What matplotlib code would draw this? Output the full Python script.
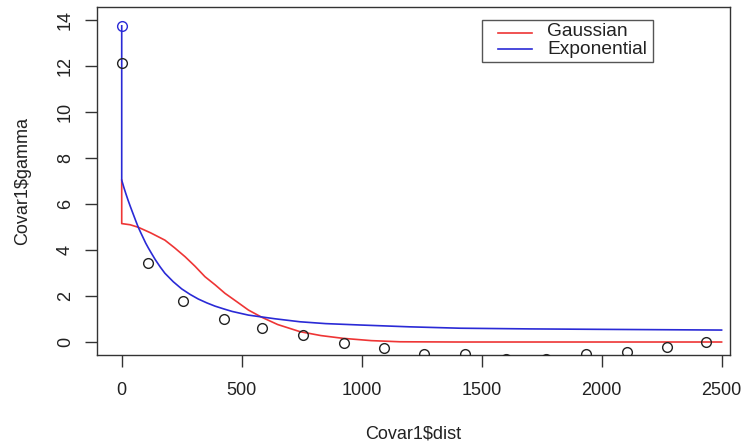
import matplotlib
matplotlib.use("Agg")
import matplotlib.pyplot as plt
from matplotlib.lines import Line2D
from matplotlib.patches import Rectangle

dist = [0, 111, 257, 426, 586, 757, 926, 1094, 1261, 1430, 1600, 1768, 1935, 2104, 2271, 2435]
gamma = [12.13, 3.42, 1.78, 0.99, 0.60, 0.30, -0.03, -0.25, -0.54, -0.54, -0.74, -0.76, -0.54, -0.42, -0.23, -0.01]

# value at zero (blue circle)
zero_dist = [0]
zero_gamma = [13.75]

# Gaussian model curve
gau_h = [0, 0, 35, 69, 120, 180, 220, 264, 305, 347, 390, 430, 480, 528, 583, 650, 743, 830, 922, 1040, 1160, 1400, 2500]
gau_y = [7.04, 5.15, 5.10, 4.99, 4.75, 4.43, 4.10, 3.71, 3.30, 2.84, 2.48, 2.12, 1.75, 1.39, 1.08, 0.76, 0.45, 0.28, 0.16, 0.06, 0.01, 0.0, 0.0]

# Exponential model curve
exp_h = [0, 0, 9, 17, 26, 35, 44, 52, 60, 69, 80, 90, 100, 111, 125, 140, 160, 180, 215, 250, 285, 319, 355, 389, 425, 460, 528, 639, 743, 850, 993, 1200, 1410, 1700, 2000, 2500]
exp_y = [13.75, 7.04, 6.72, 6.46, 6.18, 5.92, 5.67, 5.45, 5.23, 4.99, 4.74, 4.52, 4.30, 4.09, 3.84, 3.58, 3.27, 2.99, 2.62, 2.31, 2.07, 1.87, 1.70, 1.56, 1.44, 1.33, 1.17, 1.01, 0.88, 0.80, 0.74, 0.66, 0.60, 0.57, 0.55, 0.52]

x_ticks = [0, 500, 1000, 1500, 2000, 2500]
y_ticks = [0, 2, 4, 6, 8, 10, 12, 14]
series_names = ["Gaussian", "Exponential"]

RED = "#ee3535"
BLUE = "#2a2ad6"
W, H = 746, 444

plt.rcParams['font.family'] = ['Liberation Sans', 'DejaVu Sans']

fig = plt.figure(figsize=(W/100, H/100), dpi=100)
ax = fig.add_axes([97/W, 1 - 355/H, (730-97)/W, (355-7)/H])

ax.plot(gau_h, gau_y, color=RED, lw=1.2, zorder=2)
ax.plot(exp_h, exp_y, color=BLUE, lw=1.2, zorder=3)
ax.plot(dist, gamma, linestyle='none', marker='o', markersize=7, markerfacecolor='none',
        markeredgecolor='#222222', markeredgewidth=1.0, zorder=4)
ax.plot(zero_dist, zero_gamma, linestyle='none', marker='o', markersize=7, markerfacecolor='none',
        markeredgecolor=BLUE, markeredgewidth=1.0, zorder=4)

ax.set_xlim(-103, 2535)
ax.set_ylim(-0.565, 14.57)
ax.set_xticks(x_ticks)
ax.set_xticklabels([str(v) for v in x_ticks])
ax.set_yticks(y_ticks)
ax.set_yticklabels([str(v) for v in y_ticks], rotation=90, va='center')

ax.tick_params(axis='both', direction='out', length=8.5, width=1.0, color='#333333',
               labelsize=13, labelcolor='#222222')
ax.tick_params(axis='x', pad=11)
ax.tick_params(axis='y', pad=8)
for s in ax.spines.values():
    s.set_color('#333333')
    s.set_linewidth(1.0)

ax.set_xlabel("Covar1$dist", fontsize=13, color='#222222', labelpad=19)
ax.set_ylabel("Covar1$gamma", fontsize=13, color='#222222', labelpad=19)

# legend box drawn in R style (figure pixel coordinates)
def fx(px):
    return px / W

def fy(py):
    return 1 - py / H

fig.add_artist(Rectangle((fx(482), fy(62)), fx(653) - fx(482), fy(20) - fy(62),
                         transform=fig.transFigure, facecolor='white',
                         edgecolor='#555555', linewidth=1.0, zorder=10))
leg_colors = [RED, BLUE]
leg_line_y = [33, 49]
leg_text_y = [32, 50]
for name, col, ly, ty in zip(series_names, leg_colors, leg_line_y, leg_text_y):
    fig.add_artist(Line2D([fx(498), fx(532)], [fy(ly), fy(ly)], transform=fig.transFigure,
                          color=col, lw=1.2, zorder=11))
    fig.text(fx(547), fy(ty), name, fontsize=13.8, color='#222222',
             ha='left', va='center', zorder=12)

fig.savefig("out.png", dpi=100)
